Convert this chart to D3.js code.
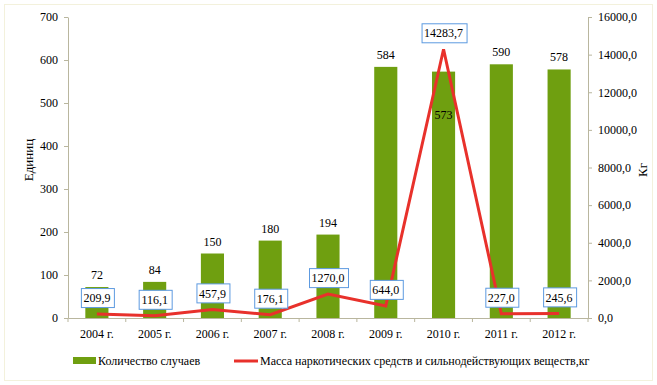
<!DOCTYPE html>
<meta charset="utf-8">
<script src="https://d3js.org/d3.v7.min.js"></script>
<body style="margin:0;background:#fff">
    <div id="chart"></div>
</body>
<script>

    // data
    var years = ["2004 г.", "2005 г.", "2006 г.", "2007 г.", "2008 г.", "2009 г.", "2010 г.", "2011 г.", "2012 г."];
    var cases = [72, 84, 150, 180, 194, 584, 573, 590, 578];
    var mass = [209.9, 116.1, 457.9, 176.1, 1270.0, 644.0, 14283.7, 227.0, 245.6];
    var leftTicks = [0, 100, 200, 300, 400, 500, 600, 700];
    var rightTicks = [0, 2000, 4000, 6000, 8000, 10000, 12000, 14000, 16000];

    var W = 657, H = 385;
    var FONT = "Liberation Serif";
    var margin = { top: 17, right: 69, bottom: 67, left: 68 },
        width = W - margin.left - margin.right,
        height = H - margin.top - margin.bottom;

    var svg = d3.select("#chart")
        .append("svg")
        .attr("width", W)
        .attr("height", H)
        .attr("font-family", FONT)
        .attr("font-size", 12);

    // faint outer frame
    svg.append("rect")
        .attr("x", 4.5).attr("y", 4.5)
        .attr("width", W - 9).attr("height", H - 9)
        .attr("fill", "none")
        .attr("stroke", "#f3f1dc");

    var g = svg.append("g")
        .attr("transform", "translate(" + margin.left + "," + margin.top + ")");

    var x = d3.scaleBand()
        .domain(years)
        .range([0, width]);

    var y = d3.scaleLinear()
        .domain([0, 700])
        .range([height, 0]);

    var y2 = d3.scaleLinear()
        .domain([0, 16000])
        .range([height, 0]);

    var fmt = function (v) { return v.toFixed(1).replace(".", ","); };
    var axisColor = "#b9b69e";

    // bars
    var barW = x.bandwidth() * 0.4;
    g.append("g")
        .selectAll("rect")
        .data(cases)
        .enter()
        .append("rect")
        .attr("x", function (d, i) { return x(years[i]) + (x.bandwidth() - barW) / 2; })
        .attr("y", function (d) { return y(d); })
        .attr("width", barW)
        .attr("height", function (d) { return height - y(d); })
        .attr("fill", "#6f9f10");

    // bar labels (573 was moved inside the bar)
    g.append("g")
        .selectAll("text")
        .data(cases)
        .enter()
        .append("text")
        .attr("text-anchor", "middle")
        .attr("x", function (d, i) { return x(years[i]) + x.bandwidth() / 2; })
        .attr("y", function (d, i) { return i == 6 ? y(d) + 47 : y(d) - 8; })
        .text(function (d) { return d; });

    // left axis
    var la = g.append("g")
        .call(d3.axisLeft(y).tickValues(leftTicks).tickSize(4).tickSizeOuter(0).tickPadding(6));

    // right axis
    var ra = g.append("g")
        .attr("transform", "translate(" + width + ",0)")
        .call(d3.axisRight(y2).tickValues(rightTicks).tickSize(4).tickSizeOuter(0).tickPadding(6)
            .tickFormat(fmt));

    // bottom axis, ticks between categories
    var ba = g.append("g")
        .attr("transform", "translate(0," + height + ")")
        .call(d3.axisBottom(x).tickSize(0).tickPadding(11));
    ba.selectAll(".sep")
        .data(d3.range(years.length + 1))
        .enter()
        .append("line")
        .attr("class", "sep")
        .attr("x1", function (d) { return d * x.step(); })
        .attr("x2", function (d) { return d * x.step(); })
        .attr("y1", 0).attr("y2", 4)
        .attr("stroke", axisColor);

    [la, ra, ba].forEach(function (a) {
        a.attr("font-family", FONT).attr("font-size", 12);
    });
    g.selectAll(".domain, .tick line").attr("stroke", axisColor);
    g.selectAll(".tick text").attr("fill", "#000");

    // line
    var line = d3.line()
        .x(function (d, i) { return x(years[i]) + x.bandwidth() / 2; })
        .y(function (d) { return y2(d); });

    g.append("path")
        .datum(mass)
        .attr("d", line)
        .attr("fill", "none")
        .attr("stroke", "#e8312b")
        .attr("stroke-width", 3)
        .attr("stroke-linejoin", "miter");

    // line labels in boxes
    var lab = g.append("g")
        .selectAll("g")
        .data(mass)
        .enter()
        .append("g")
        .attr("transform", function (d, i) {
            return "translate(" + (x(years[i]) + x.bandwidth() / 2) + "," + (y2(d) - 16) + ")";
        });
    lab.append("text")
        .attr("text-anchor", "middle")
        .attr("dy", "0.35em")
        .text(fmt);
    lab.each(function () {
        var t = d3.select(this).select("text").node().getBBox();
        d3.select(this).insert("rect", "text")
            .attr("x", Math.round(t.x - 3) + 0.5)
            .attr("y", -9.5)
            .attr("width", Math.round(t.width + 6))
            .attr("height", 19)
            .attr("fill", "#fff")
            .attr("stroke", "#5d9ae0");
    });

    // axis titles
    svg.append("text")
        .attr("transform", "translate(33,160) rotate(-90)")
        .attr("text-anchor", "middle")
        .attr("font-size", 13)
        .text("Единиц");
    svg.append("text")
        .attr("transform", "translate(647,170) rotate(-90)")
        .attr("text-anchor", "middle")
        .attr("font-size", 13)
        .text("Кг");

    // legend
    var leg = svg.append("g").attr("transform", "translate(0,361)");
    leg.append("rect")
        .attr("x", 73).attr("y", -4)
        .attr("width", 23).attr("height", 7)
        .attr("fill", "#6f9f10");
    leg.append("text")
        .attr("x", 98).attr("dy", "0.35em")
        .text("Количество случаев");
    leg.append("line")
        .attr("x1", 234).attr("x2", 258)
        .attr("y1", 0).attr("y2", 0)
        .attr("stroke", "#e8312b")
        .attr("stroke-width", 3);
    leg.append("text")
        .attr("x", 260).attr("dy", "0.35em")
        .text("Масса наркотических средств и сильнодействующих веществ,кг");

</script>
